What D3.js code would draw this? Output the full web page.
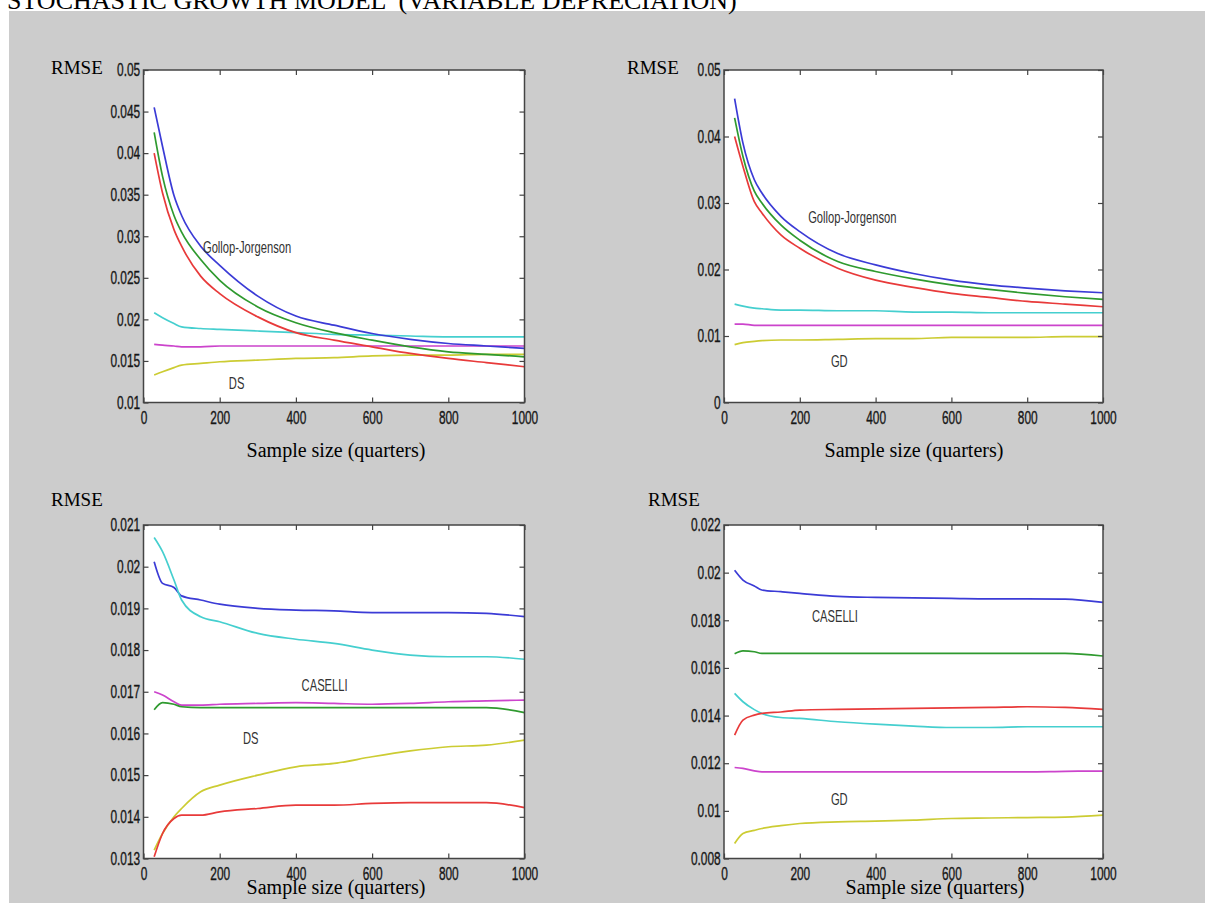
<!DOCTYPE html>
<html>
<head>
<meta charset="utf-8">
<script src="https://cdn.jsdelivr.net/npm/d3@7.9.0/dist/d3.min.js"></script>
<style>
  body { margin: 0; background: #fff; }
  svg { display: block; }
  .tick text { font-family: "Liberation Sans", Arial, sans-serif; font-size: 18px; fill: #161616; stroke: #161616; stroke-width: 0.35; }
  .tick line { stroke: #444; stroke-width: 1.2; }
  .serif { font-family: "Liberation Serif", "Times New Roman", serif; fill: #000; }
  .note { font-family: "Liberation Sans", Arial, sans-serif; font-size: 16px; fill: #333; }
</style>
</head>
<body>
<svg id="chart" width="1205" height="903"></svg>
<script>
const sampleSizes = [28, 50, 80, 100, 150, 200, 300, 400, 500, 600, 700, 800, 900, 1000];
const xTicks = [0, 200, 400, 600, 800, 1000];

const seriesColors = {
  blue: '#3b3bd6',
  green: '#2f9a2f',
  red: '#e83a3a',
  cyan: '#45cfcf',
  magenta: '#cc44cc',
  yellow: '#cccc33',
};

// top left: Gollop-Jorgenson vs DS
const topLeft = {
  cyan:    [0.0208, 0.0202, 0.0195, 0.0191, 0.0189, 0.0188, 0.0186, 0.0184, 0.0182, 0.0181, 0.0180, 0.0179, 0.0179, 0.0179],
  magenta: [0.0170, 0.0169, 0.0168, 0.0167, 0.0167, 0.0168, 0.0168, 0.0168, 0.0168, 0.0168, 0.0168, 0.0168, 0.0168, 0.0168],
  yellow:  [0.0133, 0.0137, 0.0142, 0.0145, 0.0147, 0.0149, 0.0151, 0.0153, 0.0154, 0.0156, 0.0157, 0.0157, 0.0158, 0.0158],
  red:     [0.0400, 0.0352, 0.0308, 0.0288, 0.0252, 0.0231, 0.0203, 0.0184, 0.0175, 0.0167, 0.0159, 0.0153, 0.0148, 0.0143],
  green:   [0.0425, 0.0372, 0.0325, 0.0305, 0.0272, 0.0247, 0.0215, 0.0196, 0.0184, 0.0175, 0.0167, 0.0161, 0.0158, 0.0155],
  blue:    [0.0455, 0.0408, 0.0349, 0.0325, 0.0288, 0.0265, 0.0228, 0.0204, 0.0193, 0.0183, 0.0176, 0.0171, 0.0168, 0.0165],
};
const topLeftTicks = [0.01, 0.015, 0.02, 0.025, 0.03, 0.035, 0.04, 0.045, 0.05];

// top right: Gollop-Jorgenson vs GD
const topRight = {
  cyan:    [0.0148, 0.0145, 0.0142, 0.0141, 0.0139, 0.0139, 0.0138, 0.0138, 0.0136, 0.0136, 0.0135, 0.0135, 0.0135, 0.0135],
  magenta: [0.0118, 0.0118, 0.0116, 0.0116, 0.0116, 0.0116, 0.0116, 0.0116, 0.0116, 0.0116, 0.0116, 0.0116, 0.0116, 0.0116],
  yellow:  [0.0087, 0.0090, 0.0092, 0.0093, 0.0094, 0.0094, 0.0095, 0.0096, 0.0096, 0.0098, 0.0098, 0.0098, 0.0099, 0.0099],
  red:     [0.0400, 0.0355, 0.0302, 0.0285, 0.0252, 0.0232, 0.0202, 0.0184, 0.0173, 0.0164, 0.0158, 0.0152, 0.0148, 0.0144],
  green:   [0.0428, 0.0370, 0.0318, 0.0300, 0.0267, 0.0244, 0.0212, 0.0197, 0.0186, 0.0177, 0.0170, 0.0164, 0.0159, 0.0155],
  blue:    [0.0457, 0.0390, 0.0335, 0.0315, 0.0280, 0.0257, 0.0224, 0.0207, 0.0194, 0.0184, 0.0177, 0.0172, 0.0168, 0.0165],
};
const topRightTicks = [0, 0.01, 0.02, 0.03, 0.04, 0.05];

// bottom left: CASELLI vs DS
const bottomLeft = {
  blue:    [0.02012, 0.0196, 0.0195, 0.0193, 0.0192, 0.0191, 0.0190, 0.01896, 0.01894, 0.0189, 0.0189, 0.0189, 0.01888, 0.0188],
  cyan:    [0.0207, 0.02036, 0.01968, 0.0192, 0.0188, 0.01868, 0.0184, 0.01826, 0.01816, 0.0180, 0.01788, 0.01784, 0.01784, 0.01778],
  magenta: [0.0170, 0.01692, 0.01676, 0.01668, 0.01668, 0.0167, 0.01672, 0.01674, 0.01672, 0.0167, 0.01672, 0.01676, 0.01678, 0.0168],
  green:   [0.01657, 0.01674, 0.0167, 0.01664, 0.01662, 0.01662, 0.01662, 0.01662, 0.01662, 0.01662, 0.01662, 0.01662, 0.01662, 0.0165],
  yellow:  [0.0132, 0.0136, 0.0140, 0.0142, 0.0146, 0.01476, 0.0150, 0.0152, 0.01528, 0.01544, 0.01558, 0.01568, 0.01572, 0.01584],
  red:     [0.01304, 0.0136, 0.01396, 0.01404, 0.01404, 0.01412, 0.0142, 0.01428, 0.01428, 0.01432, 0.01434, 0.01434, 0.01434, 0.01422],
};
const bottomLeftTicks = [0.013, 0.014, 0.015, 0.016, 0.017, 0.018, 0.019, 0.02, 0.021];

// bottom right: CASELLI vs GD
const bottomRight = {
  blue:    [0.0201, 0.01969, 0.01944, 0.01927, 0.0192, 0.01913, 0.0190, 0.01896, 0.01894, 0.01892, 0.0189, 0.0189, 0.01889, 0.01875],
  green:   [0.0166, 0.01672, 0.01668, 0.01661, 0.01661, 0.01661, 0.01661, 0.01661, 0.01661, 0.01661, 0.01661, 0.01661, 0.01661, 0.0165],
  cyan:    [0.01493, 0.01458, 0.01425, 0.01409, 0.01392, 0.01388, 0.01374, 0.01364, 0.01356, 0.0135, 0.0135, 0.01353, 0.01353, 0.01353],
  red:     [0.01318, 0.01381, 0.01402, 0.01409, 0.01415, 0.01423, 0.01426, 0.01428, 0.0143, 0.01432, 0.01434, 0.01437, 0.01434, 0.01426],
  magenta: [0.01182, 0.01178, 0.01168, 0.01164, 0.01164, 0.01164, 0.01164, 0.01164, 0.01164, 0.01164, 0.01164, 0.01164, 0.01166, 0.01167],
  yellow:  [0.00863, 0.00905, 0.00918, 0.00926, 0.00938, 0.00947, 0.00954, 0.00957, 0.00961, 0.00968, 0.0097, 0.00972, 0.00974, 0.00982],
};
const bottomRightTicks = [0.008, 0.01, 0.012, 0.014, 0.016, 0.018, 0.02, 0.022];

const panels = [
  {
    series: topLeft, ticks: topLeftTicks, box: [143.5, 70, 524.5, 402.5],
    rmse: [51, 74], xlabel: [336, 457],
    notes: [['Gollop-Jorgenson', 156, 0.0286], ['DS', 224, 0.01235]],
  },
  {
    series: topRight, ticks: topRightTicks, box: [724, 70, 1103, 402.5],
    rmse: [627, 74], xlabel: [914, 457],
    notes: [['Gollop-Jorgenson', 222, 0.0278], ['GD', 282, 0.00614]],
  },
  {
    series: bottomLeft, ticks: bottomLeftTicks, box: [143.5, 525, 524.5, 858.5],
    rmse: [51, 506], xlabel: [336, 894],
    notes: [['CASELLI', 415, 0.01716], ['DS', 261, 0.01589]],
  },
  {
    series: bottomRight, ticks: bottomRightTicks, box: [724, 525, 1103, 858.5],
    rmse: [648, 506], xlabel: [935, 894],
    notes: [['CASELLI', 232, 0.01818], ['GD', 282, 0.0105]],
  },
];

const squeeze = 'scale(0.66,1)';
const svg = d3.select('#chart');

svg.append('rect').attr('x', 9).attr('y', 11).attr('width', 1196).attr('height', 892).attr('fill', '#cccccc');

svg.append('text')
  .attr('class', 'serif')
  .attr('x', 7)
  .attr('y', 9)
  .style('font-size', '26px')
  .attr('xml:space', 'preserve')
  .text('STOCHASTIC GROWTH MODEL  (VARIABLE DEPRECIATION)');

const fmt = (d) => String(+d.toFixed(4));

function drawPanel(p) {
  const [left, top, right, bottom] = p.box;
  const x = d3.scaleLinear().domain([0, 1000]).range([left, right]);
  const y = d3.scaleLinear().domain(d3.extent(p.ticks)).range([bottom, top]);
  const g = svg.append('g');

  g.append('rect')
    .attr('x', left).attr('y', top)
    .attr('width', right - left).attr('height', bottom - top)
    .attr('fill', '#fff');

  const line = d3.line()
    .x((d) => x(d[0]))
    .y((d) => y(d[1]))
    .curve(d3.curveMonotoneX);

  for (const [name, values] of Object.entries(p.series)) {
    g.append('path')
      .datum(sampleSizes.map((s, i) => [s, values[i]]))
      .attr('fill', 'none')
      .attr('stroke', seriesColors[name])
      .attr('stroke-width', 1.7)
      .attr('d', line);
  }

  for (const [label, sx, sy] of p.notes) {
    g.append('text')
      .attr('class', 'note')
      .attr('transform', `translate(${x(sx)},${y(sy)}) scale(0.7,1)`)
      .attr('dy', '0.35em')
      .text(label);
  }

  const bottomAxis = g.append('g')
    .attr('transform', `translate(0,${bottom})`)
    .call(d3.axisBottom(x).tickValues(xTicks).tickSizeInner(-5).tickSizeOuter(0).tickPadding(9).tickFormat(fmt));
  const leftAxis = g.append('g')
    .attr('transform', `translate(${left},0)`)
    .call(d3.axisLeft(y).tickValues(p.ticks).tickSizeInner(-5).tickSizeOuter(0).tickPadding(5).tickFormat(fmt));
  const topAxis = g.append('g')
    .attr('transform', `translate(0,${top})`)
    .call(d3.axisTop(x).tickValues(xTicks).tickSizeInner(-5).tickSizeOuter(0).tickFormat(''));
  const rightAxis = g.append('g')
    .attr('transform', `translate(${right},0)`)
    .call(d3.axisRight(y).tickValues(p.ticks).tickSizeInner(-5).tickSizeOuter(0).tickFormat(''));

  for (const a of [bottomAxis, leftAxis, topAxis, rightAxis]) a.select('.domain').remove();
  bottomAxis.selectAll('text').attr('transform', squeeze);
  leftAxis.selectAll('text').attr('transform', squeeze);

  g.append('rect')
    .attr('x', left).attr('y', top)
    .attr('width', right - left).attr('height', bottom - top)
    .attr('fill', 'none')
    .attr('stroke', '#444')
    .attr('stroke-width', 1.5);

  g.append('text')
    .attr('class', 'serif')
    .attr('x', p.rmse[0])
    .attr('y', p.rmse[1])
    .style('font-size', '19px')
    .text('RMSE');

  g.append('text')
    .attr('class', 'serif')
    .attr('x', p.xlabel[0])
    .attr('y', p.xlabel[1])
    .attr('text-anchor', 'middle')
    .style('font-size', '20px')
    .text('Sample size (quarters)');
}

panels.forEach(drawPanel);
</script>
</body>
</html>
